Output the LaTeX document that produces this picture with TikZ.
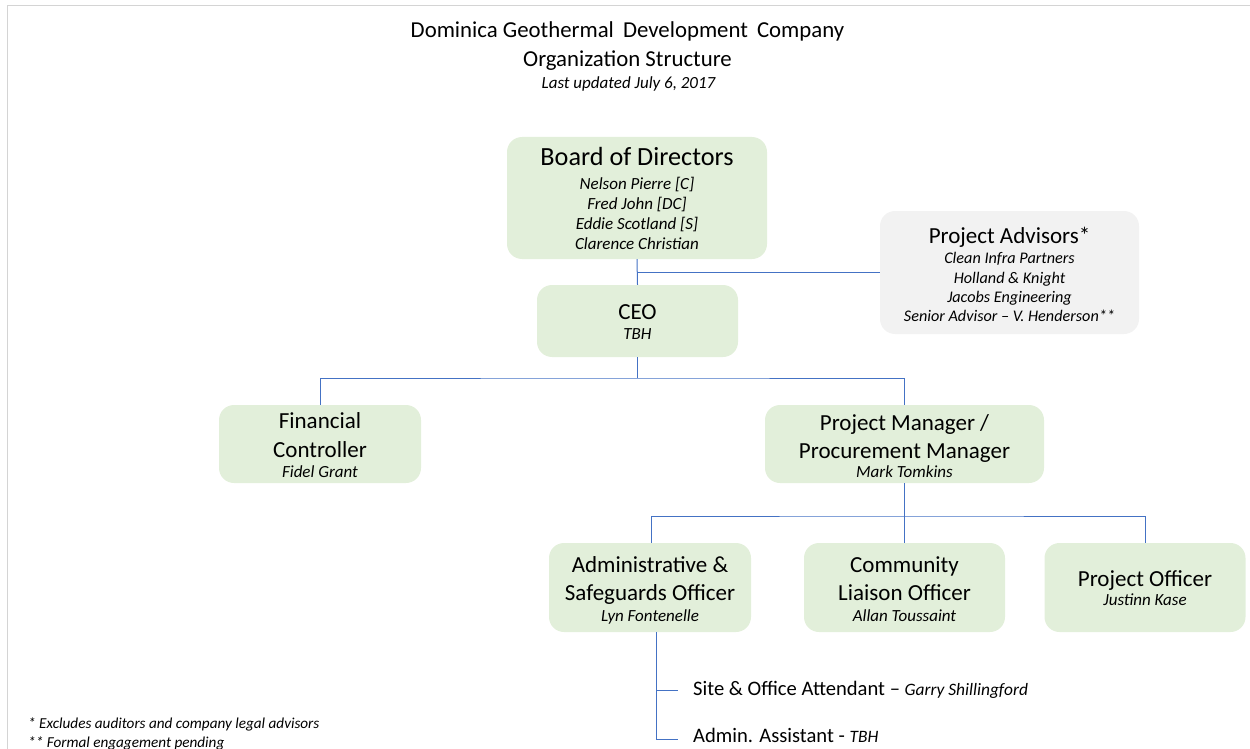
\documentclass[tikz,border=0pt]{standalone}
\usepackage{fontspec}
\setmainfont{Carlito}
\definecolor{boxgreen}{HTML}{E2EFDA}
\definecolor{boxgrey}{HTML}{F2F2F2}
\definecolor{linkblue}{HTML}{4472C4}
\definecolor{framegrey}{HTML}{D4D4D4}
% italic name printed after a staff role
\newcommand\staffnamefont{\fontsize{17.4}{20}\selectfont\itshape}
\begin{document}
\begin{tikzpicture}[x=1pt,y=-1pt,
  orgbox/.style={rectangle, rounded corners=15pt, fill=boxgreen, draw=none, inner sep=0pt},
  advbox/.style={orgbox, fill=boxgrey},
  link/.style={draw=linkblue, line width=1pt},
  headline/.style={anchor=base, inner sep=0pt, font=\fontsize{23}{27}\selectfont},
  bighead/.style={headline, font=\fontsize{26.2}{30}\selectfont},
  person/.style={anchor=base, inner sep=0pt, font=\fontsize{17}{20}\selectfont\itshape},
  advperson/.style={person, font=\fontsize{16.2}{19}\selectfont\itshape},
  titleline/.style={anchor=base, inner sep=0pt, font=\fontsize{22.8}{27}\selectfont},
  subtitle/.style={anchor=base, inner sep=0pt, font=\fontsize{17}{20}\selectfont\itshape},
  staffline/.style={anchor=base west, inner sep=0pt, font=\fontsize{20.6}{24}\selectfont},
  footnote/.style={anchor=base west, inner sep=0pt, font=\fontsize{15.2}{18}\selectfont\itshape}]
\useasboundingbox (0,0) rectangle (1250,749);

% page frame
\draw[framegrey, line width=1.5pt] (7.5,749) -- (7.5,5.5) -- (1250,5.5);

% heading
\node[titleline] (title1) at (627.5,38) {Dominica Geothermal\hspace{0.4em}Development\hspace{0.4em}Company};
\node[titleline] (title2) at (627.5,66.5) {Organization Structure};
\node[subtitle] (title3) at (628.5,89) {Last updated July 6, 2017};

% boxes
\node[orgbox, minimum width=260pt, minimum height=122pt] (board) at (637,198) {};
\node[advbox, minimum width=259pt, minimum height=123pt] (adv) at (1009.5,272.5) {};
\node[orgbox, minimum width=201pt, minimum height=72pt] (ceo) at (637.5,321) {};
\node[orgbox, minimum width=202pt, minimum height=78pt] (fin) at (320,444) {};
\node[orgbox, minimum width=279pt, minimum height=78pt] (pm) at (904.5,444) {};
\node[orgbox, minimum width=202pt, minimum height=89pt] (adm) at (650,587.5) {};
\node[orgbox, minimum width=201pt, minimum height=89pt] (com) at (904.5,587.5) {};
\node[orgbox, minimum width=201pt, minimum height=89pt] (po) at (1145,587.5) {};

% box texts
\node[bighead] (boardT) at (637,165) {Board of Directors};
\node[person] (board1) at (637,189) {Nelson Pierre [C]};
\node[person] (board2) at (637,209.5) {Fred John [DC]};
\node[person] (board3) at (637,229.5) {Eddie Scotland [S]};
\node[person] (board4) at (637,249.5) {Clarence Christian};

\node[headline] (advT) at (1009.5,243) {Project Advisors*};
\node[advperson] (adv1) at (1009.5,263) {Clean Infra Partners};
\node[advperson] (adv2) at (1009.5,283) {Holland \& Knight};
\node[advperson] (adv3) at (1009.5,302) {Jacobs Engineering};
\node[advperson] (adv4) at (1009.5,321) {Senior Advisor -- V. Henderson**};

\node[headline] (ceoT) at (637.5,319) {CEO};
\node[person] (ceo1) at (637.5,339) {TBH};

\node[headline] (finT1) at (320,428) {Financial};
\node[headline] (finT2) at (320,457) {Controller};
\node[person] (fin1) at (320,477) {Fidel Grant};

\node[headline] (pmT1) at (904.5,430) {Project Manager /};
\node[headline] (pmT2) at (904.5,458) {Procurement Manager};
\node[person] (pm1) at (904.5,477) {Mark Tomkins};

\node[headline] (admT1) at (650,572) {Administrative \&};
\node[headline] (admT2) at (650,600) {Safeguards Officer};
\node[person] (adm1) at (650,621) {Lyn Fontenelle};

\node[headline] (comT1) at (904.5,572) {Community};
\node[headline] (comT2) at (904.5,600) {Liaison Officer};
\node[person] (com1) at (904.5,621) {Allan Toussaint};

\node[headline] (poT) at (1145,586) {Project Officer};
\node[person] (po1) at (1145,605) {Justinn Kase};

% staff reporting to the administrative officer
\node[staffline] (site) at (693,695) {Site \& Office Attendant -- {\staffnamefont Garry Shillingford}};
\node[staffline] (asst) at (693,742) {Admin. Assistant - {\staffnamefont TBH}};
\coordinate (stem) at (656,632);
\coordinate (siteTap) at (678,690);
\coordinate (asstTap) at (678,739);

% footnotes
\node[footnote] (note1) at (28,728) {* Excludes auditors and company legal advisors};
\node[footnote] (note2) at (28,747) {** Formal engagement pending};

% connectors
\draw[link] (board.south) -- (ceo.north);
\draw[link] (board.south |- adv.west) -- (adv.west);
\coordinate (ceoBus) at (637.5,378);
\draw[link] (ceo.south) -- (ceoBus);
\draw[link] (fin.north) |- (ceoBus) -| (pm.north);
\coordinate (pmBus) at (904.5,516);
\draw[link] (pm.south) -- (pmBus) -- (com.north);
\draw[link] ([xshift=1pt]adm.north) |- (pmBus) -| (po.north);
\draw[link] (stem) |- (siteTap);
\draw[link] (stem) |- (asstTap);
\end{tikzpicture}
\end{document}
